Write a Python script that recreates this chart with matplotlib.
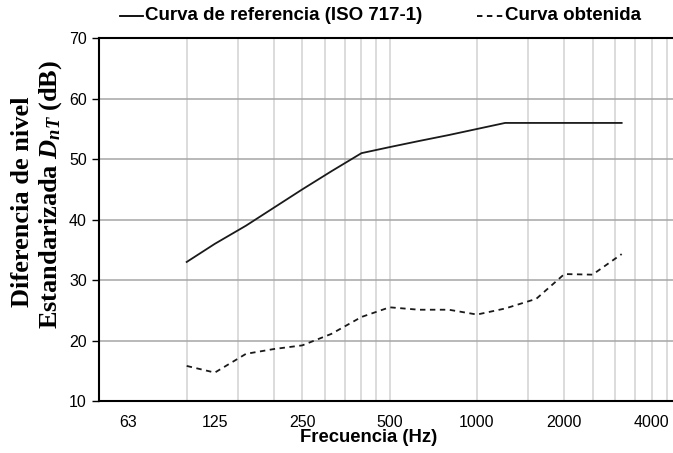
import matplotlib
matplotlib.use("Agg")
import matplotlib.pyplot as plt
from matplotlib.lines import Line2D
import numpy as np

# Data
freqs = [100, 125, 160, 200, 250, 315, 400, 500, 630, 800, 1000, 1250, 1600, 2000, 2500, 3150]
ref_curve = [33, 36, 39, 42, 45, 48, 51, 52, 53, 54, 55, 56, 56, 56, 56, 56]
measured = [15.8, 14.7, 17.8, 18.6, 19.2, 21.1, 23.9, 25.5, 25.1, 25.1, 24.3, 25.3, 26.9, 31.0, 30.9, 34.3]
tick_freqs = [63, 125, 250, 500, 1000, 2000, 4000]
tick_labels = ["63", "125", "250", "500", "1000", "2000", "4000"]
minor_grid = [100, 150, 200, 250, 300, 350, 400, 450, 500,
              1000, 1500, 2000, 2500, 3000, 3500, 4000, 4500]
y_ticks = [10, 20, 30, 40, 50, 60, 70]

plt.rcParams["mathtext.fontset"] = "custom"
plt.rcParams["mathtext.rm"] = "Liberation Serif:bold"
plt.rcParams["mathtext.it"] = "Liberation Serif:italic:bold"
plt.rcParams["mathtext.bf"] = "Liberation Serif:bold"

W, H = 673, 453
fig = plt.figure(figsize=(W / 100, H / 100), dpi=100)
left_px, right_px, top_px, bot_px = 99.3, 673.0, 38.3, 401.0
ax = fig.add_axes([left_px / W, 1 - bot_px / H, (right_px - left_px) / W, (bot_px - top_px) / H])

ax.set_xscale("log")
xmax = 50 * 10 ** ((right_px - left_px) / 290.3)
ax.set_xlim(50, xmax)
ax.set_ylim(10, 70)

# grid
for g in minor_grid:
    ax.axvline(g, color="#d9d9d9", lw=1.3, zorder=0)
for yv in y_ticks[1:-1]:
    ax.axhline(yv, color="#a6a6a6", lw=1.1, zorder=0.5)

ax.plot(freqs, ref_curve, color="#1a1a1a", lw=1.3, zorder=3)
ax.plot(freqs, measured, color="#1a1a1a", lw=1.3, linestyle=(0, (3, 2.5)), zorder=3)

ax.set_xticks(tick_freqs)
ax.set_xticklabels(tick_labels)
ax.xaxis.set_minor_locator(matplotlib.ticker.NullLocator())
ax.tick_params(axis="x", length=0, pad=10, labelsize=11.5)
ax.set_yticks(y_ticks)
ax.tick_params(axis="y", length=5, width=1, direction="out", pad=4, labelsize=11.5)
for lab in ax.get_xticklabels() + ax.get_yticklabels():
    lab.set_fontfamily(["Liberation Sans", "DejaVu Sans"])

for s in ["left", "bottom", "top"]:
    ax.spines[s].set_color("black")
    ax.spines[s].set_linewidth(1.5)
ax.spines["right"].set_visible(False)

# x label
fig.text(369 / W, 1 - 437 / H, "Frecuencia (Hz)", ha="center", va="center",
         fontsize=13.3, fontweight="bold", family=["Liberation Sans", "DejaVu Sans"])

# y label (two lines)
serif = ["Liberation Serif", "DejaVu Serif"]
fig.text(23 / W, 1 - 202 / H, "Diferencia de nivel", rotation=90, ha="center", va="center",
         fontsize=19, fontweight="bold", family=serif)
fig.text(51 / W, 1 - 194 / H, r"Estandarizada $D_{nT}$ (dB)", rotation=90, ha="center", va="center",
         fontsize=19, fontweight="bold", family=serif)

# legend
leg_font = ["Liberation Sans", "DejaVu Sans"]
ly = 1 - 16 / H
fig.add_artist(Line2D([120 / W, 143 / W], [ly, ly], color="black", lw=1.3))
fig.text(145 / W, ly, "Curva de referencia (ISO 717-1)", ha="left", va="center",
         fontsize=13.5, fontweight="bold", family=leg_font)
fig.add_artist(Line2D([477 / W, 503 / W], [ly, ly], color="black", lw=1.3, linestyle=(0, (3, 2.5))))
fig.text(505 / W, ly, "Curva obtenida", ha="left", va="center",
         fontsize=13.5, fontweight="bold", family=leg_font)

fig.savefig("out.png", dpi=100)
